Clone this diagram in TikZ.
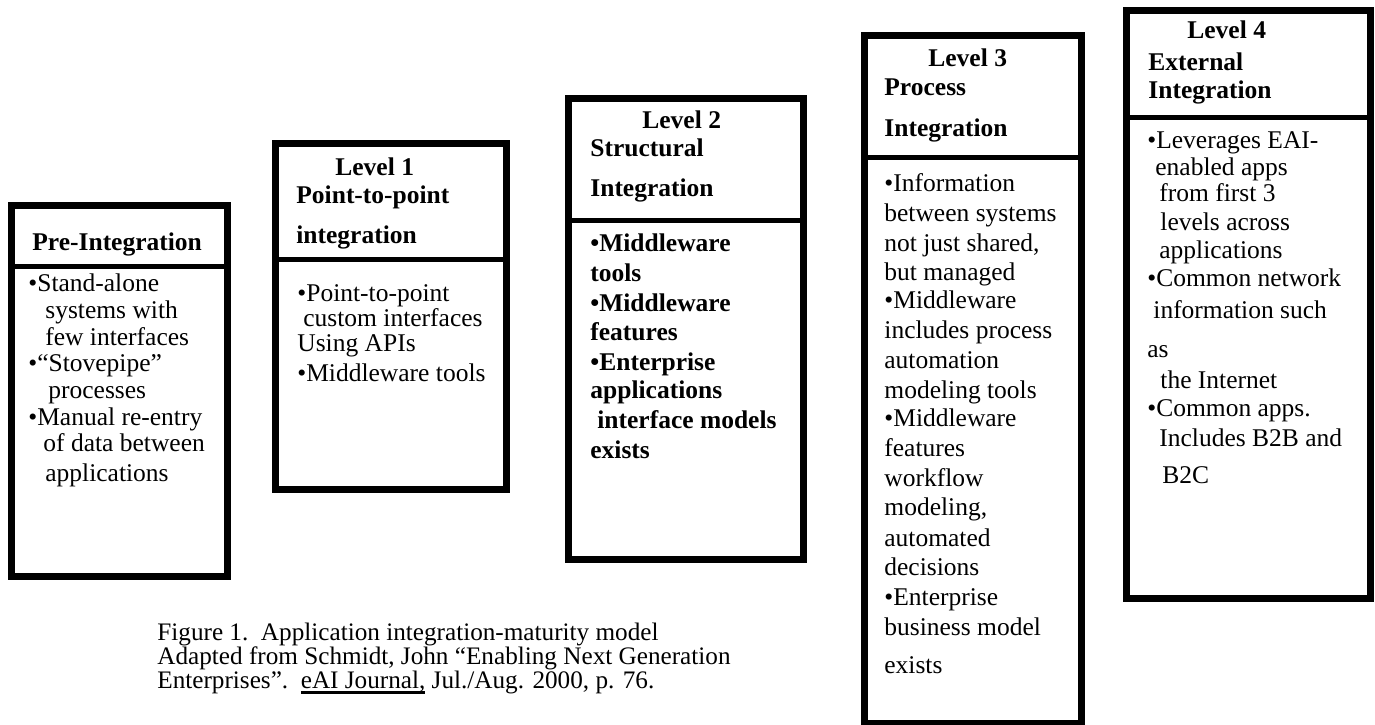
\documentclass[tikz,border=0pt]{standalone}
\usepackage{fontspec}
\setmainfont{Liberation Serif}
\newcommand\bodyfont{\fontsize{12.75}{15}\selectfont}
\newcommand\capfont{\fontsize{12.6}{14}\selectfont}
\newcommand\myul[1]{\setbox0\hbox{#1}\rlap{\rule[-3pt]{\wd0}{1.4pt}}\box0\relax}
\tikzset{
  box/.style={draw=black, line width=3.5pt, line join=miter},
  divider/.style={draw=black, line width=2.3pt},
  txt/.style={anchor=base west, inner sep=0pt, font=\bodyfont},
  ttl/.style={anchor=base west, inner sep=0pt, font=\bodyfont\bfseries},
  captxt/.style={anchor=base west, inner sep=0pt, font=\capfont},
}
\begin{document}
\begin{tikzpicture}[x=0.5pt,y=-0.5pt]
\useasboundingbox (0,0) rectangle (1375,724);
\fill[white] (0,0) rectangle (1375,724);

% ---------- boxes ----------
\coordinate (b0tl) at (11,205);   \coordinate (b0br) at (227.5,576.5);
\coordinate (b1tl) at (275,143.5); \coordinate (b1br) at (506.5,489);
\coordinate (b2tl) at (568,98.5);  \coordinate (b2br) at (803.5,559.5);
\coordinate (b3tl) at (864,35);    \coordinate (b3br) at (1081.5,723.5);
\coordinate (b4tl) at (1126.5,10); \coordinate (b4br) at (1370,598.5);
\draw[box] (b0tl) rectangle (b0br);
\draw[box] (b1tl) rectangle (b1br);
\draw[box] (b2tl) rectangle (b2br);
\draw[box] (b3tl) rectangle (b3br);
\draw[box] (b4tl) rectangle (b4br);
\coordinate (d0) at (0,266.5);
\coordinate (d1) at (0,259.5);
\coordinate (d2) at (0,220.5);
\coordinate (d3) at (0,157.5);
\coordinate (d4) at (0,117.5);
\draw[divider] (b0tl |- d0) -- (b0br |- d0);
\draw[divider] (b1tl |- d1) -- (b1br |- d1);
\draw[divider] (b2tl |- d2) -- (b2br |- d2);
\draw[divider] (b3tl |- d3) -- (b3br |- d3);
\draw[divider] (b4tl |- d4) -- (b4br |- d4);

% ---------- Pre-Integration ----------
\node[ttl] (t0) at (32,250) {Pre-Integration};
\node[txt] (p0a) at (28,291) {•Stand-alone};
\node[txt] (p0b) at (45,318) {systems with};
\node[txt] (p0c) at (45,345) {few interfaces};
\node[txt] (p0d) at (28,371) {•“Stovepipe”};
\node[txt] (p0e) at (48,398) {processes};
\node[txt] (p0f) at (28,425) {•Manual re-entry};
\node[txt] (p0g) at (43,451) {of data between};
\node[txt] (p0h) at (45,481) {applications};

% ---------- Level 1 ----------
\node[ttl] (t1a) at (335,175) {Level 1};
\node[ttl] (t1b) at (296,203) {Point-to-point};
\node[ttl] (t1c) at (296,243) {integration};
\node[txt] (p1a) at (297,301) {•Point-to-point};
\node[txt] (p1b) at (303,326) {custom interfaces};
\node[txt] (p1c) at (297,351) {Using APIs};
\node[txt] (p1d) at (297,381) {•Middleware tools};

% ---------- Level 2 ----------
\node[ttl] (t2a) at (642,128) {Level 2};
\node[ttl] (t2b) at (590,156) {Structural};
\node[ttl] (t2c) at (590,196) {Integration};
\node[ttl] (p2a) at (590,251) {•Middleware};
\node[ttl] (p2b) at (590,281) {tools};
\node[ttl] (p2c) at (590,311) {•Middleware};
\node[ttl] (p2d) at (590,340) {features};
\node[ttl] (p2e) at (590,370) {•Enterprise};
\node[ttl] (p2f) at (590,398) {applications};
\node[ttl] (p2g) at (597,428) {interface models};
\node[ttl] (p2h) at (590,458) {exists};

% ---------- Level 3 ----------
\node[ttl] (t3a) at (928,66) {Level 3};
\node[ttl] (t3b) at (884,95) {Process};
\node[ttl] (t3c) at (884,136) {Integration};
\node[txt] (p3a) at (884,191) {•Information};
\node[txt] (p3b) at (884,221) {between systems};
\node[txt] (p3c) at (884,251) {not just shared,};
\node[txt] (p3d) at (884,280) {but managed};
\node[txt] (p3e) at (884,308) {•Middleware};
\node[txt] (p3f) at (884,338) {includes process};
\node[txt] (p3g) at (884,368) {automation};
\node[txt] (p3h) at (884,398) {modeling tools};
\node[txt] (p3i) at (884,426) {•Middleware};
\node[txt] (p3j) at (884,456) {features};
\node[txt] (p3k) at (884,486) {workflow};
\node[txt] (p3l) at (884,515) {modeling,};
\node[txt] (p3m) at (884,546) {automated};
\node[txt] (p3n) at (884,575) {decisions};
\node[txt] (p3o) at (884,605) {•Enterprise};
\node[txt] (p3p) at (884,635) {business model};
\node[txt] (p3q) at (884,673) {exists};

% ---------- Level 4 ----------
\node[ttl] (t4a) at (1187,38) {Level 4};
\node[ttl] (t4b) at (1148,70) {External};
\node[ttl] (t4c) at (1148,98) {Integration};
\node[txt] (p4a) at (1147,148) {•Leverages EAI-};
\node[txt] (p4b) at (1155,175) {enabled apps};
\node[txt] (p4c) at (1159,201) {from first 3};
\node[txt] (p4d) at (1160,230) {levels across};
\node[txt] (p4e) at (1159,258) {applications};
\node[txt] (p4f) at (1147,286) {•Common network};
\node[txt] (p4g) at (1153,318) {information such};
\node[txt] (p4h) at (1147,357) {as};
\node[txt] (p4i) at (1160,388) {the Internet};
\node[txt] (p4j) at (1147,416) {•Common apps.};
\node[txt] (p4k) at (1159,446) {Includes B2B and};
\node[txt] (p4l) at (1162,483) {B2C};

% ---------- caption ----------
\node[captxt] (c1) at (157,640) {Figure 1.\ \ Application integration-maturity model};
\node[captxt] (c2) at (157,664) {Adapted from Schmidt, John “Enabling Next Generation};
\node[captxt] (c3) at (157,688) {Enterprises”.\ \ \myul{eAI Journal,} Jul./Aug. 2000, p. 76.};
\end{tikzpicture}
\end{document}
